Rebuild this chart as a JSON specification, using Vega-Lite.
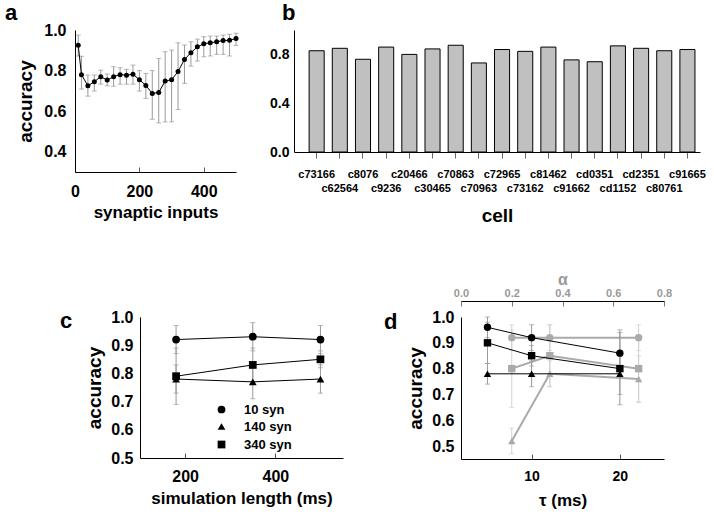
{
  "$schema": "https://vega.github.io/schema/vega-lite/v6.json",
  "background": "white",
  "padding": {"left": 5, "top": 2, "right": 5, "bottom": 5},
  "config": {
    "view": {"stroke": null},
    "font": "Liberation Sans",
    "axis": {"grid": false, "domainColor": "black", "labelColor": "black", "titleColor": "black", "labelFontWeight": "bold", "titleFontWeight": "bold", "labelFont": "Liberation Sans", "titleFont": "Liberation Sans", "tickColor": "#555", "labelOverlap": false, "labelFlush": false},
    "title": {"font": "Liberation Sans", "fontSize": 22, "fontWeight": "bold", "anchor": "start", "frame": "group", "color": "black"},
    "legend": {"labelFont": "Liberation Sans"}
  },
  "datasets": {
    "syn": [
      {"n": 10, "acc": 0.925, "lo": 0.872, "hi": 0.975},
      {"n": 20, "acc": 0.78, "lo": 0.709, "hi": 0.87},
      {"n": 40, "acc": 0.725, "lo": 0.674, "hi": 0.778},
      {"n": 60, "acc": 0.745, "lo": 0.699, "hi": 0.778},
      {"n": 80, "acc": 0.77, "lo": 0.733, "hi": 0.802},
      {"n": 100, "acc": 0.753, "lo": 0.725, "hi": 0.783},
      {"n": 120, "acc": 0.77, "lo": 0.723, "hi": 0.819},
      {"n": 140, "acc": 0.78, "lo": 0.733, "hi": 0.814},
      {"n": 160, "acc": 0.777, "lo": 0.733, "hi": 0.806},
      {"n": 180, "acc": 0.782, "lo": 0.733, "hi": 0.827},
      {"n": 200, "acc": 0.755, "lo": 0.699, "hi": 0.8},
      {"n": 220, "acc": 0.727, "lo": 0.663, "hi": 0.786},
      {"n": 240, "acc": 0.687, "lo": 0.56, "hi": 0.8},
      {"n": 260, "acc": 0.692, "lo": 0.542, "hi": 0.86},
      {"n": 280, "acc": 0.748, "lo": 0.547, "hi": 0.893},
      {"n": 300, "acc": 0.755, "lo": 0.547, "hi": 0.901},
      {"n": 320, "acc": 0.795, "lo": 0.608, "hi": 0.937},
      {"n": 340, "acc": 0.855, "lo": 0.737, "hi": 0.926},
      {"n": 360, "acc": 0.888, "lo": 0.822, "hi": 0.942},
      {"n": 380, "acc": 0.917, "lo": 0.847, "hi": 0.955},
      {"n": 400, "acc": 0.932, "lo": 0.868, "hi": 0.967},
      {"n": 420, "acc": 0.937, "lo": 0.872, "hi": 0.97},
      {"n": 440, "acc": 0.942, "lo": 0.88, "hi": 0.97},
      {"n": 460, "acc": 0.948, "lo": 0.88, "hi": 0.975},
      {"n": 480, "acc": 0.949, "lo": 0.872, "hi": 0.979},
      {"n": 500, "acc": 0.958, "lo": 0.924, "hi": 0.984}
    ],
    "cells": [
      {"cell": "c73166", "acc": 0.83},
      {"cell": "c62564", "acc": 0.85},
      {"cell": "c8076", "acc": 0.76},
      {"cell": "c9236", "acc": 0.86},
      {"cell": "c20466", "acc": 0.8},
      {"cell": "c30465", "acc": 0.845},
      {"cell": "c70863", "acc": 0.875},
      {"cell": "c70963", "acc": 0.73},
      {"cell": "c72965", "acc": 0.84},
      {"cell": "c73162", "acc": 0.825},
      {"cell": "c81462", "acc": 0.86},
      {"cell": "c91662", "acc": 0.755},
      {"cell": "cd0351", "acc": 0.74},
      {"cell": "cd1152", "acc": 0.87},
      {"cell": "cd2351", "acc": 0.85},
      {"cell": "c80761", "acc": 0.83},
      {"cell": "c91665", "acc": 0.84}
    ],
    "simlen": [
      {"syn": "10 syn", "len": 180, "acc": 0.92, "lo": 0.87, "hi": 0.97},
      {"syn": "10 syn", "len": 350, "acc": 0.93, "lo": 0.88, "hi": 0.98},
      {"syn": "10 syn", "len": 500, "acc": 0.92, "lo": 0.87, "hi": 0.97},
      {"syn": "140 syn", "len": 180, "acc": 0.78, "lo": 0.73, "hi": 0.83},
      {"syn": "140 syn", "len": 350, "acc": 0.77, "lo": 0.71, "hi": 0.83},
      {"syn": "140 syn", "len": 500, "acc": 0.78, "lo": 0.73, "hi": 0.83},
      {"syn": "340 syn", "len": 180, "acc": 0.79, "lo": 0.69, "hi": 0.89},
      {"syn": "340 syn", "len": 350, "acc": 0.83, "lo": 0.77, "hi": 0.89},
      {"syn": "340 syn", "len": 500, "acc": 0.85, "lo": 0.82, "hi": 0.88}
    ],
    "tau": [
      {"syn": "10 syn", "tau": 5, "acc": 0.96, "lo": 0.92, "hi": 1.0},
      {"syn": "10 syn", "tau": 10, "acc": 0.92, "lo": 0.87, "hi": 0.97},
      {"syn": "10 syn", "tau": 20, "acc": 0.86, "lo": 0.77, "hi": 0.95},
      {"syn": "340 syn", "tau": 5, "acc": 0.9, "lo": 0.82, "hi": 0.98},
      {"syn": "340 syn", "tau": 10, "acc": 0.85, "lo": 0.81, "hi": 0.89},
      {"syn": "340 syn", "tau": 20, "acc": 0.8, "lo": 0.66, "hi": 0.94},
      {"syn": "140 syn", "tau": 5, "acc": 0.78, "lo": 0.74, "hi": 0.82},
      {"syn": "140 syn", "tau": 10, "acc": 0.78, "lo": 0.73, "hi": 0.83},
      {"syn": "140 syn", "tau": 20, "acc": 0.78, "lo": 0.7, "hi": 0.86}
    ],
    "alpha": [
      {"syn": "10 syn", "alpha": 0.2, "acc": 0.92, "lo": 0.87, "hi": 0.97},
      {"syn": "10 syn", "alpha": 0.35, "acc": 0.92, "lo": 0.87, "hi": 0.97},
      {"syn": "10 syn", "alpha": 0.7, "acc": 0.92, "lo": 0.87, "hi": 0.97},
      {"syn": "340 syn", "alpha": 0.2, "acc": 0.8, "lo": 0.65, "hi": 0.95},
      {"syn": "340 syn", "alpha": 0.35, "acc": 0.85, "lo": 0.73, "hi": 0.97},
      {"syn": "340 syn", "alpha": 0.7, "acc": 0.8, "lo": 0.67, "hi": 0.93},
      {"syn": "140 syn", "alpha": 0.2, "acc": 0.52, "lo": 0.47, "hi": 0.57},
      {"syn": "140 syn", "alpha": 0.35, "acc": 0.78, "lo": 0.73, "hi": 0.83},
      {"syn": "140 syn", "alpha": 0.7, "acc": 0.76, "lo": 0.67, "hi": 0.85}
    ]
  },
  "vconcat": [
    {
      "hconcat": [
        {
          "width": 161, "height": 142,
          "title": {"text": "a", "dx": -70, "dy": 7},
          "data": {"name": "syn"},
          "layer": [
            {
              "mark": {"type": "errorbar", "color": "#999", "ticks": {"size": 5}},
              "encoding": {
                "x": {"field": "n", "type": "quantitative", "scale": {"domain": [0, 500]}, "axis": {"values": [0, 200, 400], "title": "synaptic inputs", "titleFontSize": 17, "labelFontSize": 16, "tickSize": -5, "labelPadding": 16, "titlePadding": 5}},
                "y": {"field": "lo", "type": "quantitative", "scale": {"domain": [0.3, 1.0]}, "axis": {"values": [0.4, 0.6, 0.8, 1.0], "format": ".1f", "title": "accuracy", "titleFontSize": 19, "labelFontSize": 16, "ticks": false, "labelPadding": 9, "titlePadding": 8, "labelOverlap": false}},
                "y2": {"field": "hi"}
              }
            },
            {
              "mark": {"type": "line", "color": "black", "strokeWidth": 1, "point": {"filled": true, "color": "black", "size": 25, "opacity": 1}},
              "encoding": {
                "x": {"field": "n", "type": "quantitative", "title": "synaptic inputs"},
                "y": {"field": "acc", "type": "quantitative", "title": "accuracy"}
              }
            }
          ]
        },
        {
          "width": 406, "height": 122,
          "title": {"text": "b", "dx": -12, "dy": -1},
          "data": {"name": "cells"},
          "mark": {"type": "bar", "fill": "#c0c0c0", "stroke": "black", "strokeWidth": 1},
          "encoding": {
            "x": {"field": "cell", "type": "nominal", "sort": null, "scale": {"paddingInner": 0.35, "paddingOuter": 0.435, "align": 0.75},
              "axis": {"title": "cell", "titleFontSize": 19, "labelFontSize": 11, "labelAngle": 0, "labelOverlap": false, "tickSize": 6, "tickColor": "#666", "titlePadding": 13,
                "labelPadding": {"expr": "indexof(['c62564','c9236','c30465','c70963','c73162','c91662','cd1152','c80761'], datum.value) >= 0 ? 24 : 10"}}},
            "y": {"field": "acc", "type": "quantitative", "scale": {"domain": [0, 1.0]}, "axis": {"values": [0, 0.4, 0.8], "format": ".1f", "title": null, "labelFontSize": 14, "ticks": false, "labelPadding": 5}}
          }
        }
      ],
      "spacing": 30
    },
    {
      "hconcat": [
        {
          "width": 1, "height": 1,
          "data": {"values": []},
          "mark": {"type": "text"},
          "encoding": {}
        },
        {
          "hconcat": [
            {
              "width": 203, "height": 141,
              "title": {"text": "c", "dx": -80, "dy": 28},
              "data": {"name": "simlen"},
              "encoding": {
                "x": {"field": "len", "type": "quantitative", "scale": {"domain": [100, 550]}, "axis": {"values": [200, 400], "title": "simulation length (ms)", "titleFontSize": 17, "labelFontSize": 16, "tickSize": -5, "labelPadding": 15, "titlePadding": 6}}
              },
              "layer": [
                {
                  "mark": {"type": "errorbar", "color": "#999", "ticks": {"size": 5}},
                  "encoding": {
                    "y": {"field": "lo", "type": "quantitative", "scale": {"domain": [0.5, 1.0]}, "axis": {"values": [0.5, 0.6, 0.7, 0.8, 0.9, 1.0], "format": ".1f", "title": "accuracy", "titleFontSize": 19, "labelFontSize": 16, "ticks": false, "labelPadding": 7, "titlePadding": 6, "labelOverlap": false}},
                    "y2": {"field": "hi"}
                  }
                },
                {
                  "mark": {"type": "line", "color": "black", "strokeWidth": 1},
                  "encoding": {
                    "y": {"field": "acc", "type": "quantitative", "axis": {"values": [0.5, 0.6, 0.7, 0.8, 0.9, 1.0], "format": ".1f", "title": "accuracy", "titleFontSize": 19, "labelFontSize": 16, "ticks": false, "labelPadding": 7, "titlePadding": 6, "labelOverlap": false}},
                    "detail": {"field": "syn"}
                  }
                },
                {
                  "mark": {"type": "point", "filled": true, "color": "black", "size": 60, "opacity": 1},
                  "encoding": {
                    "y": {"field": "acc", "type": "quantitative", "axis": {"values": [0.5, 0.6, 0.7, 0.8, 0.9, 1.0], "format": ".1f", "title": "accuracy", "titleFontSize": 19, "labelFontSize": 16, "ticks": false, "labelPadding": 7, "titlePadding": 6, "labelOverlap": false}},
                    "shape": {"field": "syn", "type": "nominal", "scale": {"domain": ["10 syn", "140 syn", "340 syn"], "range": ["circle", "triangle-up", "square"]},
                      "legend": {"orient": "none", "legendX": 75, "legendY": 86, "title": null, "labelFontSize": 13, "labelFontWeight": "bold", "labelColor": "black", "symbolFillColor": "black", "symbolStrokeColor": "black", "symbolSize": 60, "rowPadding": 3, "labelOffset": 16, "padding": 0}}
                  }
                }
              ]
            },
            {
              "width": 203, "height": 142,
              "title": {"text": "d", "dx": -77, "dy": 67},
              "layer": [
                {
                  "data": {"name": "alpha"},
                  "encoding": {
                    "x": {"field": "alpha", "type": "quantitative", "scale": {"domain": [0, 0.8]}, "axis": {"orient": "top", "offset": 16, "values": [0, 0.2, 0.4, 0.6, 0.8], "format": ".1f", "title": "α", "titleColor": "#999", "titleFontSize": 16, "labelColor": "#999", "labelFontSize": 11, "tickSize": -5, "tickColor": "#777", "labelPadding": 8, "titlePadding": 0}}
                  },
                  "layer": [
                    {
                      "mark": {"type": "errorbar", "color": "#d0d0d0", "ticks": {"size": 5}},
                      "encoding": {
                        "y": {"field": "lo", "type": "quantitative", "scale": {"domain": [0.45, 1.0]}, "axis": {"values": [0.5, 0.6, 0.7, 0.8, 0.9, 1.0], "format": ".1f", "title": "accuracy", "titleFontSize": 19, "labelFontSize": 16, "ticks": false, "labelPadding": 7, "titlePadding": 6, "labelOverlap": false}},
                        "y2": {"field": "hi"}
                      }
                    },
                    {
                      "mark": {"type": "line", "color": "#aaa", "strokeWidth": 2},
                      "encoding": {
                        "y": {"field": "acc", "type": "quantitative", "axis": {"values": [0.5, 0.6, 0.7, 0.8, 0.9, 1.0], "format": ".1f", "title": "accuracy", "titleFontSize": 19, "labelFontSize": 16, "ticks": false, "labelPadding": 7, "titlePadding": 6, "labelOverlap": false}},
                        "detail": {"field": "syn"}
                      }
                    },
                    {
                      "mark": {"type": "point", "filled": true, "color": "#aaa", "size": 55, "opacity": 1},
                      "encoding": {
                        "y": {"field": "acc", "type": "quantitative", "axis": {"values": [0.5, 0.6, 0.7, 0.8, 0.9, 1.0], "format": ".1f", "title": "accuracy", "titleFontSize": 19, "labelFontSize": 16, "ticks": false, "labelPadding": 7, "titlePadding": 6, "labelOverlap": false}},
                        "shape": {"field": "syn", "type": "nominal", "scale": {"domain": ["10 syn", "140 syn", "340 syn"], "range": ["circle", "triangle-up", "square"]}, "legend": null}
                      }
                    }
                  ]
                },
                {
                  "data": {"name": "tau"},
                  "encoding": {
                    "x": {"field": "tau", "type": "quantitative", "scale": {"domain": [2, 25]}, "axis": {"values": [10, 20], "title": "τ (ms)", "titleFontSize": 17, "labelFontSize": 14, "tickSize": -5, "labelPadding": 15, "titlePadding": 9}}
                  },
                  "layer": [
                    {
                      "mark": {"type": "errorbar", "color": "#999", "ticks": {"size": 5}},
                      "encoding": {
                        "y": {"field": "lo", "type": "quantitative", "axis": {"values": [0.5, 0.6, 0.7, 0.8, 0.9, 1.0], "format": ".1f", "title": "accuracy", "titleFontSize": 19, "labelFontSize": 16, "ticks": false, "labelPadding": 7, "titlePadding": 6, "labelOverlap": false}},
                        "y2": {"field": "hi"}
                      }
                    },
                    {
                      "mark": {"type": "line", "color": "black", "strokeWidth": 1},
                      "encoding": {
                        "y": {"field": "acc", "type": "quantitative", "axis": {"values": [0.5, 0.6, 0.7, 0.8, 0.9, 1.0], "format": ".1f", "title": "accuracy", "titleFontSize": 19, "labelFontSize": 16, "ticks": false, "labelPadding": 7, "titlePadding": 6, "labelOverlap": false}},
                        "detail": {"field": "syn"}
                      }
                    },
                    {
                      "mark": {"type": "point", "filled": true, "color": "black", "size": 55, "opacity": 1},
                      "encoding": {
                        "y": {"field": "acc", "type": "quantitative", "axis": {"values": [0.5, 0.6, 0.7, 0.8, 0.9, 1.0], "format": ".1f", "title": "accuracy", "titleFontSize": 19, "labelFontSize": 16, "ticks": false, "labelPadding": 7, "titlePadding": 6, "labelOverlap": false}},
                        "shape": {"field": "syn", "type": "nominal", "legend": null}
                      }
                    }
                  ]
                }
              ],
              "resolve": {"scale": {"x": "independent"}, "axis": {"x": "independent"}}
            }
          ],
          "spacing": 41,
          "resolve": {"scale": {"shape": "independent"}, "legend": {"shape": "independent"}}
        }
      ],
      "spacing": -16,
      "resolve": {"scale": {"shape": "independent"}, "legend": {"shape": "independent"}}
    }
  ],
  "spacing": 46,
  "resolve": {"scale": {"shape": "independent"}, "legend": {"shape": "independent"}}
}
